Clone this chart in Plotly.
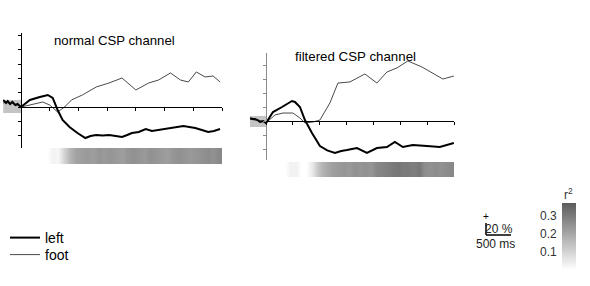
import plotly.graph_objects as go

W, H = 590, 286
FONT = "Liberation Sans, Arial, sans-serif"

# ---------------- data ----------------
# panel 1: normal CSP channel (time in ms, amplitude in %)
t1_left = [-310, -260, -230, -190, -150, -100, -60, -20, 0, 155, 250, 328, 400, 466, 552, 638, 724,
           845, 983, 1121, 1210, 1310, 1420, 1534, 1650, 1759, 1850, 1931, 2050, 2172, 2280, 2397,
           2500, 2621, 2720, 2828, 2930, 3034, 3150, 3259, 3360, 3466]
v1_left = [4.9, 2.8, 4.2, 2.1, 3.5, 1.4, 2.1, 0.7, 0.0, 4.9, 6.3, 7.0, 7.7, 8.4, 6.3, -2.1, -9.1,
           -14.0, -18.2, -21.7, -20.3, -19.6, -20.0, -19.6, -20.3, -21.0, -19.6, -18.2, -17.5, -15.4,
           -16.8, -16.1, -15.4, -14.7, -14.0, -13.3, -14.0, -14.7, -16.1, -17.5, -16.8, -15.4]
t1_foot = [-310, -250, -200, -150, -100, -50, 0, 155, 379, 500, 638, 759, 879, 1069, 1310, 1534,
           1759, 2000, 2224, 2397, 2603, 2776, 2914, 3052, 3207, 3345, 3466]
v1_foot = [2.8, 3.5, 2.1, 2.8, 1.4, 1.4, 0.0, 1.4, 3.5, 1.4, -3.5, 0.0, 4.9, 8.4, 14.0, 16.8,
           20.3, 11.9, 16.8, 18.9, 23.8, 18.9, 17.5, 24.5, 21.0, 21.7, 17.5]

# panel 2: filtered CSP channel
t2_left = [-298, -250, -205, -160, -112, -50, 0, 130, 298, 484, 539, 632, 725, 856, 1004, 1140, 1283,
           1400, 1507, 1693, 1879, 2065, 2251, 2399, 2548, 2734, 2995, 3236, 3497]
v2_left = [2.1, 1.4, 1.4, 0.7, -0.7, 0.0, -1.4, 6.4, 10.0, 14.3, 13.6, 10.0, 0.7, -8.6, -17.9,
           -21.0, -22.8, -21.4, -20.7, -19.3, -22.8, -19.3, -18.6, -15.0, -18.6, -17.1, -17.9,
           -18.6, -15.7]
t2_foot = [-298, -220, -149, -80, 0, 167, 316, 502, 632, 725, 874, 1004, 1190, 1339, 1562, 1841,
           2065, 2251, 2437, 2641, 2902, 3106, 3292, 3497]
v2_foot = [1.4, 0.7, 0.7, 0.0, -1.4, 4.3, 5.7, 5.7, 2.1, -1.4, -0.7, 0.7, 12.9, 27.1, 27.9, 33.6,
           27.1, 35.0, 37.9, 42.9, 38.6, 34.3, 30.0, 32.1]

# baseline (pre-stimulus) band
base1_t = [-310, 0]
base1_band = [-4.2, 4.9]
base2_t = [-298, 0]
base2_band = [-4.3, 3.6]

# r^2 over time (bins of 100 ms)
r2_t = [50 + 100 * i for i in range(35)]
r2_panel1 = [0.0, 0.0, 0.0, 0.0, 0.0, 0.03, 0.02, 0.10, 0.17, 0.21,
             0.22, 0.23, 0.22, 0.24, 0.23, 0.24, 0.23, 0.22, 0.24, 0.25,
             0.24, 0.23, 0.25, 0.24, 0.23, 0.22, 0.24, 0.25, 0.24, 0.23,
             0.24, 0.25, 0.26, 0.25, 0.27]
r2_panel2 = [0.0, 0.0, 0.0, 0.0, 0.03, 0.03, 0.0, 0.0, 0.05, 0.12,
             0.17, 0.20, 0.22, 0.23, 0.24, 0.23, 0.25, 0.24, 0.25, 0.24,
             0.27, 0.28, 0.29, 0.30, 0.31, 0.30, 0.30, 0.29, 0.31, 0.26,
             0.25, 0.26, 0.25, 0.26, 0.27]
r2_ticks = [0.1, 0.2, 0.3]
R2_MAX = 0.37

titles = ["normal CSP channel", "filtered CSP channel"]
legend_names = ["left", "foot"]


def px(x):
    return x / W


def py(y):
    return 1 - y / H


fig = go.Figure()

# baseline bands
for bt, bb, xa, ya in [(base1_t, base1_band, "x", "y"), (base2_t, base2_band, "x2", "y2")]:
    fig.add_trace(go.Scatter(
        x=[bt[0], bt[1], bt[1], bt[0], bt[0]], y=[bb[0], bb[0], bb[1], bb[1], bb[0]],
        fill="toself", fillcolor="#c4c4c4", line=dict(width=0), mode="lines",
        hoverinfo="skip", showlegend=False, xaxis=xa, yaxis=ya))

# curves
fig.add_trace(go.Scatter(x=t1_foot, y=v1_foot, mode="lines", name=legend_names[1],
                         line=dict(color="#4a4a4a", width=1), xaxis="x", yaxis="y",
                         legend="legend2"))
fig.add_trace(go.Scatter(x=t1_left, y=v1_left, mode="lines", name=legend_names[0],
                         line=dict(color="black", width=2), xaxis="x", yaxis="y",
                         legend="legend"))
fig.add_trace(go.Scatter(x=t2_foot, y=v2_foot, mode="lines", showlegend=False,
                         line=dict(color="#4a4a4a", width=1), xaxis="x2", yaxis="y2"))
fig.add_trace(go.Scatter(x=t2_left, y=v2_left, mode="lines", showlegend=False,
                         line=dict(color="black", width=2), xaxis="x2", yaxis="y2"))

# r^2 strips (one row, drawn twice so the time interpolation can be smoothed)
for z, xa, ya in [(r2_panel1, "x3", "y3"), (r2_panel2, "x4", "y4")]:
    fig.add_trace(go.Heatmap(x=r2_t, y=[0, 1], z=[z, z], coloraxis="coloraxis",
                             zsmooth="best", xaxis=xa, yaxis=ya, hoverinfo="skip"))

# geometry (pixels)
P1 = dict(x0=3, xz=21, x1=222, ytop=33, ybot=148, yz=107, strip=(148, 164), ycol="black")
P2 = dict(x0=250, xz=266, x1=454, ytop=53, ybot=160, yz=121, strip=(162, 177), ycol="#8a8a8a")

legend_common = dict(xanchor="left", yanchor="middle", bgcolor="rgba(0,0,0,0)",
                     font=dict(size=14, family=FONT), itemwidth=30)

layout = dict(
    width=W, height=H, margin=dict(l=0, r=0, t=0, b=0),
    paper_bgcolor="white", plot_bgcolor="rgba(0,0,0,0)",
    font=dict(family=FONT, size=13, color="black"),
    showlegend=True,
    legend=dict(x=px(5), y=py(238), **legend_common),
    legend2=dict(x=px(5), y=py(255), **legend_common),
    coloraxis=dict(cmin=0, cmax=R2_MAX,
                   colorscale=[[0, "white"], [1, "rgb(92,92,92)"]],
                   colorbar=dict(x=px(562), xanchor="left", xpad=0, thickness=14,
                                 len=(270 - 203) / H, lenmode="fraction",
                                 y=py(270), yanchor="bottom", ypad=0,
                                 outlinewidth=0, showticklabels=False, ticks="")),
)

for i, P in enumerate([P1, P2]):
    n = "" if i == 0 else "2"
    ms_per_px = 3500 / (P["x1"] - P["xz"])
    xmin = -(P["xz"] - P["x0"]) * ms_per_px
    # y scale: 10 % per tick spacing
    tick_px = 14.3 if i == 0 else 14.0
    ymax = (P["yz"] - P["ytop"]) / tick_px * 10
    ymin = -(P["ybot"] - P["yz"]) / tick_px * 10
    layout["xaxis" + n] = dict(domain=[px(P["x0"]), px(P["x1"])], range=[xmin, 3500],
                               visible=False, anchor="y" + n)
    layout["yaxis" + n] = dict(domain=[py(P["ybot"]), py(P["ytop"])], range=[ymin, ymax],
                               anchor="free", position=px(P["xz"]), showline=True,
                               linecolor=P["ycol"], linewidth=1, ticks="outside", ticklen=3,
                               tickcolor=P["ycol"], dtick=10, tick0=0,
                               showticklabels=False, showgrid=False, zeroline=False)
    # strip axis which also draws the zero line with ticks
    k = str(3 + i)
    layout["xaxis" + k] = dict(domain=[px(P["xz"]), px(P["x1"])], range=[0, 3500],
                               anchor="free", position=py(P["yz"]), showline=True,
                               linecolor="black", linewidth=1, ticks="outside", ticklen=3,
                               tickcolor="black", dtick=500, tick0=0,
                               showticklabels=False, showgrid=False, zeroline=False)
    layout["yaxis" + k] = dict(domain=[py(P["strip"][1]), py(P["strip"][0])],
                               range=[0, 1], visible=False, anchor="x" + k)
    k2 = str(5 + i)
    layout["xaxis" + k2] = dict(overlaying="x" + k, range=[0, 3500], anchor="free",
                                position=py(P["yz"]), side="bottom", showline=False,
                                ticks="inside", ticklen=3, tickcolor="black", dtick=500,
                                tick0=0, showticklabels=False, showgrid=False,
                                zeroline=False)

PP = dict(xref="paper", yref="paper", showarrow=False)
annotations = [
    dict(text=titles[0], x=px(52), y=py(41), xanchor="left", yanchor="middle",
         font=dict(size=13.2), **PP),
    dict(text=titles[1], x=px(293), y=py(57), xanchor="left", yanchor="middle",
         font=dict(size=13.3), **PP),
    dict(text="r<sup>2</sup>", x=px(568), y=py(194), xanchor="center", yanchor="middle",
         font=dict(size=12, color="#333"), **PP),
    dict(text="+", x=px(486), y=py(216), xanchor="center", yanchor="middle",
         font=dict(size=10), **PP),
    dict(text="20 %", x=px(499), y=py(229), xanchor="center", yanchor="middle",
         font=dict(size=12, color="#222"), **PP),
    dict(text="500 ms", x=px(495), y=py(244), xanchor="center", yanchor="middle",
         font=dict(size=12, color="#222"), **PP),
]
cb_bottom, cb_len = py(270), (270 - 203) / H
for v in r2_ticks:
    annotations.append(dict(text=f"{v:.1f}", x=px(559), y=cb_bottom + v / R2_MAX * cb_len,
                            xanchor="right", yanchor="middle",
                            font=dict(size=12, color="#333"), **PP))
layout["annotations"] = annotations
layout["shapes"] = [
    dict(type="line", xref="paper", yref="paper", x0=px(486), x1=px(486), y0=py(223),
         y1=py(235), line=dict(color="black", width=1.5)),
    dict(type="line", xref="paper", yref="paper", x0=px(486), x1=px(511), y0=py(235),
         y1=py(235), line=dict(color="black", width=1.5)),
]

fig.update_layout(**layout)
fig.write_html("out.html")
